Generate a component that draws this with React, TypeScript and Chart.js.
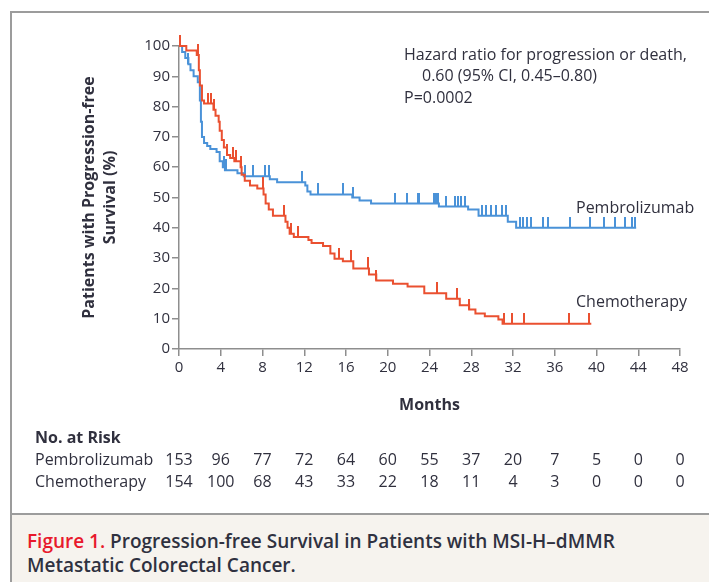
import React, { useEffect, useRef } from "react";
import { Chart, registerables } from "chart.js";

Chart.register(...registerables);

// ---- data ----
const pembroSteps: [number, number][] = [
  [0, 100], [0.3, 98], [0.6, 96], [0.9, 94], [1.1, 92], [1.4, 90], [1.8, 88],
  [2.0, 82], [2.1, 75], [2.2, 70], [2.4, 68], [2.7, 67], [3.0, 66], [3.6, 65],
  [3.9, 62], [4.2, 60], [4.4, 59], [5.6, 58], [6.2, 57], [8.7, 56], [9.4, 55],
  [12.1, 54], [12.3, 52], [12.6, 51], [16.6, 50], [17.3, 49], [18.4, 48],
  [24.9, 47], [27.7, 46], [28.7, 44], [31.5, 42], [32.3, 40], [43.8, 40],
];
const chemoSteps: [number, number][] = [
  [0, 100], [0.7, 98.5], [1.7, 97], [1.9, 92], [2.0, 87], [2.2, 82], [2.4, 81],
  [3.3, 79], [3.5, 77], [3.8, 75], [3.9, 72], [4.1, 69], [4.3, 66.5], [4.6, 64],
  [4.9, 63], [5.3, 62], [5.9, 60], [6.0, 57.5], [6.3, 55.5], [6.8, 54], [7.5, 53],
  [8.1, 51], [8.3, 48], [8.6, 46], [9.0, 44], [10.2, 42], [10.4, 40], [10.6, 38],
  [11.0, 37], [12.4, 36], [12.7, 35], [13.8, 34], [14.5, 31.5], [14.9, 29.8],
  [15.7, 29], [16.7, 26.6], [18.2, 24.6], [18.9, 22.6], [20.5, 21.5], [21.9, 20.6],
  [23.5, 18.4], [25.6, 16.6], [26.9, 14.4], [27.8, 13], [28.4, 11.7], [29.3, 10.8],
  [30.6, 9.7], [31.0, 8.3], [39.5, 8.3],
];
const pembroCensor: number[] = [
  0.9, 4.3, 4.5, 6.3, 7.1, 8.2, 8.6, 11.8, 13.3, 15.7, 16.7, 20.7, 21.8, 22.9, 23.0,
  24.4, 24.6, 24.8, 25.6, 26.4, 26.7, 27.0, 27.4, 29.0, 29.4, 29.9, 30.4, 30.9, 31.3,
  32.7, 33.0, 33.3, 33.7, 34.9, 35.4, 37.5, 39.4, 40.7, 41.8, 42.7, 43.4, 43.7,
];
const chemoCensor: number[] = [
  0.05, 1.8, 2.8, 3.1, 3.4, 4.6, 5.2, 5.5, 5.9, 8.0, 10.1, 10.7, 11.4, 15.3, 16.5,
  18.1, 18.9, 24.7, 26.6, 27.8, 31.1, 31.9, 33.1, 37.4, 39.3,
];
const riskMonths: number[] = [0, 4, 8, 12, 16, 20, 24, 28, 32, 36, 40, 44, 48];
const pembroRisk: number[] = [153, 96, 77, 72, 64, 60, 55, 37, 20, 7, 5, 0, 0];
const chemoRisk: number[] = [154, 100, 68, 43, 33, 22, 18, 11, 4, 3, 0, 0, 0];
const seriesNames: string[] = ["Pembrolizumab", "Chemotherapy"];
const annotationLines: string[] = [
  "Hazard ratio for progression or death,",
  "0.60 (95% CI, 0.45\u20130.80)",
  "P=0.0002",
];
const yTitle: string[] = ["Patients with Progression-free", "Survival (%)"];
const xTitle = "Months";

// ---- styles ----
const BLUE = "#4a92d8";
const RED = "#ea5030";
const AXIS = "#8e8e8e";
const TEXT = "#30303e";
const FONT = "'Open Sans', 'Noto Sans', sans-serif";

function survivalAt(steps: [number, number][], t: number): number {
  let v = steps[0][1];
  for (const [x, y] of steps) {
    if (x <= t) v = y;
    else break;
  }
  return v;
}

function makeTick(color: string): HTMLCanvasElement {
  const c = document.createElement("canvas");
  c.width = 2;
  c.height = 22;
  const ctx = c.getContext("2d")!;
  ctx.fillStyle = color;
  ctx.fillRect(0, 0, 2, 11);
  return c;
}

const textPlugin = {
  id: "kmText",
  afterDraw(chart: any) {
    const { ctx } = chart;
    const xs = chart.scales.x;
    const ys = chart.scales.y;
    ctx.save();
    ctx.fillStyle = TEXT;
    ctx.textBaseline = "middle";

    // y title
    ctx.save();
    const yMid = (ys.top + ys.bottom) / 2;
    ctx.font = `bold 16px ${FONT}`;
    ctx.textAlign = "center";
    ctx.translate(89, yMid);
    ctx.rotate(-Math.PI / 2);
    ctx.fillText(yTitle[0], 0, 0);
    ctx.fillText(yTitle[1], 0, 21);
    ctx.restore();

    // x title
    ctx.font = `bold 16px ${FONT}`;
    ctx.textAlign = "center";
    ctx.fillText(xTitle, (xs.left + xs.right) / 2, 405);

    // annotation
    ctx.font = `16px ${FONT}`;
    ctx.textAlign = "left";
    ctx.fillText(annotationLines[0], 404, 55);
    ctx.fillText(annotationLines[1], 422, 76);
    ctx.fillText(annotationLines[2], 404, 98);

    // curve labels
    ctx.fillText(seriesNames[0], 576, 208);
    ctx.fillText(seriesNames[1], 576, 302);

    // risk table
    ctx.font = `bold 16px ${FONT}`;
    ctx.fillText("No. at Risk", 35, 438);
    ctx.font = `16px ${FONT}`;
    ctx.fillText(seriesNames[0], 35, 460);
    ctx.fillText(seriesNames[1], 35, 482);
    ctx.textAlign = "center";
    riskMonths.forEach((m, i) => {
      const px = xs.getPixelForValue(m);
      ctx.fillText(String(pembroRisk[i]), px, 460);
      ctx.fillText(String(chemoRisk[i]), px, 482);
    });
    ctx.restore();
  },
};

export default function App() {
  const ref = useRef<HTMLCanvasElement | null>(null);

  useEffect(() => {
    if (!ref.current) return;
    const blueTick = makeTick(BLUE);
    const redTick = makeTick(RED);
    const chart = new Chart(ref.current, {
      type: "scatter",
      data: {
        datasets: [
          {
            label: seriesNames[1],
            data: chemoSteps.map(([x, y]) => ({ x, y })),
            showLine: true,
            stepped: true,
            borderColor: RED,
            borderWidth: 2,
            pointRadius: 0,
            clip: false,
          } as any,
          {
            label: seriesNames[1] + " censored",
            data: chemoCensor.map((t) => ({ x: t, y: survivalAt(chemoSteps, t) })),
            showLine: false,
            pointStyle: redTick,
            pointRadius: 3,
            clip: false,
          } as any,
          {
            label: seriesNames[0],
            data: pembroSteps.map(([x, y]) => ({ x, y })),
            showLine: true,
            stepped: true,
            borderColor: BLUE,
            borderWidth: 2,
            pointRadius: 0,
            clip: false,
          } as any,
          {
            label: seriesNames[0] + " censored",
            data: pembroCensor.map((t) => ({ x: t, y: survivalAt(pembroSteps, t) })),
            showLine: false,
            pointStyle: blueTick,
            pointRadius: 3,
            clip: false,
          } as any,
        ],
      },
      options: {
        animation: false,
        responsive: false,
        devicePixelRatio: 1,
        events: [],
        layout: { padding: { left: 119, right: 29, top: 46, bottom: 193 } },
        plugins: {
          legend: { display: false },
          tooltip: { enabled: false },
        },
        scales: {
          x: {
            type: "linear",
            min: 0,
            max: 48,
            afterFit: (s: any) => { s.height = 40; },
            ticks: {
              stepSize: 4,
              color: TEXT,
              font: { family: FONT, size: 15 },
              padding: 3,
              maxRotation: 0,
            },
            grid: {
              display: true,
              drawOnChartArea: false,
              drawTicks: true,
              tickLength: 7,
              color: AXIS,
              lineWidth: 1.5,
            },
            border: { display: true, color: AXIS, width: 1.5 },
          },
          y: {
            type: "linear",
            min: 0,
            max: 100,
            afterFit: (s: any) => { s.width = 60; },
            ticks: {
              stepSize: 10,
              color: TEXT,
              font: { family: FONT, size: 15 },
              padding: 2,
            },
            grid: {
              display: true,
              drawOnChartArea: false,
              drawTicks: true,
              tickLength: 7,
              color: AXIS,
              lineWidth: 1.5,
            },
            border: { display: true, color: AXIS, width: 1.5 },
          },
        },
      } as any,
      plugins: [textPlugin],
    });
    return () => chart.destroy();
  }, []);

  return (
    <div
      style={{
        position: "absolute",
        left: 0,
        top: 0,
        width: 709,
        height: 582,
        background: "#ffffff",
        overflow: "hidden",
        fontFamily: FONT,
      }}
    >
      <div
        style={{
          position: "absolute",
          left: 10,
          top: 11,
          width: 720,
          height: 504,
          boxSizing: "border-box",
          borderTop: "2px solid #9c9c9c",
          borderLeft: "2px solid #9c9c9c",
          borderBottom: "2px solid #9c9c9c",
          background: "#ffffff",
        }}
      />
      <div
        style={{
          position: "absolute",
          left: 10,
          top: 515,
          width: 720,
          height: 80,
          boxSizing: "border-box",
          borderLeft: "2px solid #9c9c9c",
          background: "#f6f3ee",
          paddingLeft: 15,
          paddingTop: 14,
          fontSize: 19,
          lineHeight: "24px",
          fontWeight: 600,
          color: "#2f3140",
          whiteSpace: "nowrap",
        }}
      >
        <span style={{ color: "#e8192c" }}>Figure 1.</span> Progression-free Survival in Patients with MSI-H{"\u2013"}dMMR
        <br />
        Metastatic Colorectal Cancer.
      </div>
      <canvas
        ref={ref}
        width={709}
        height={582}
        style={{ position: "absolute", left: 0, top: 0, width: 709, height: 582 }}
      />
    </div>
  );
}
